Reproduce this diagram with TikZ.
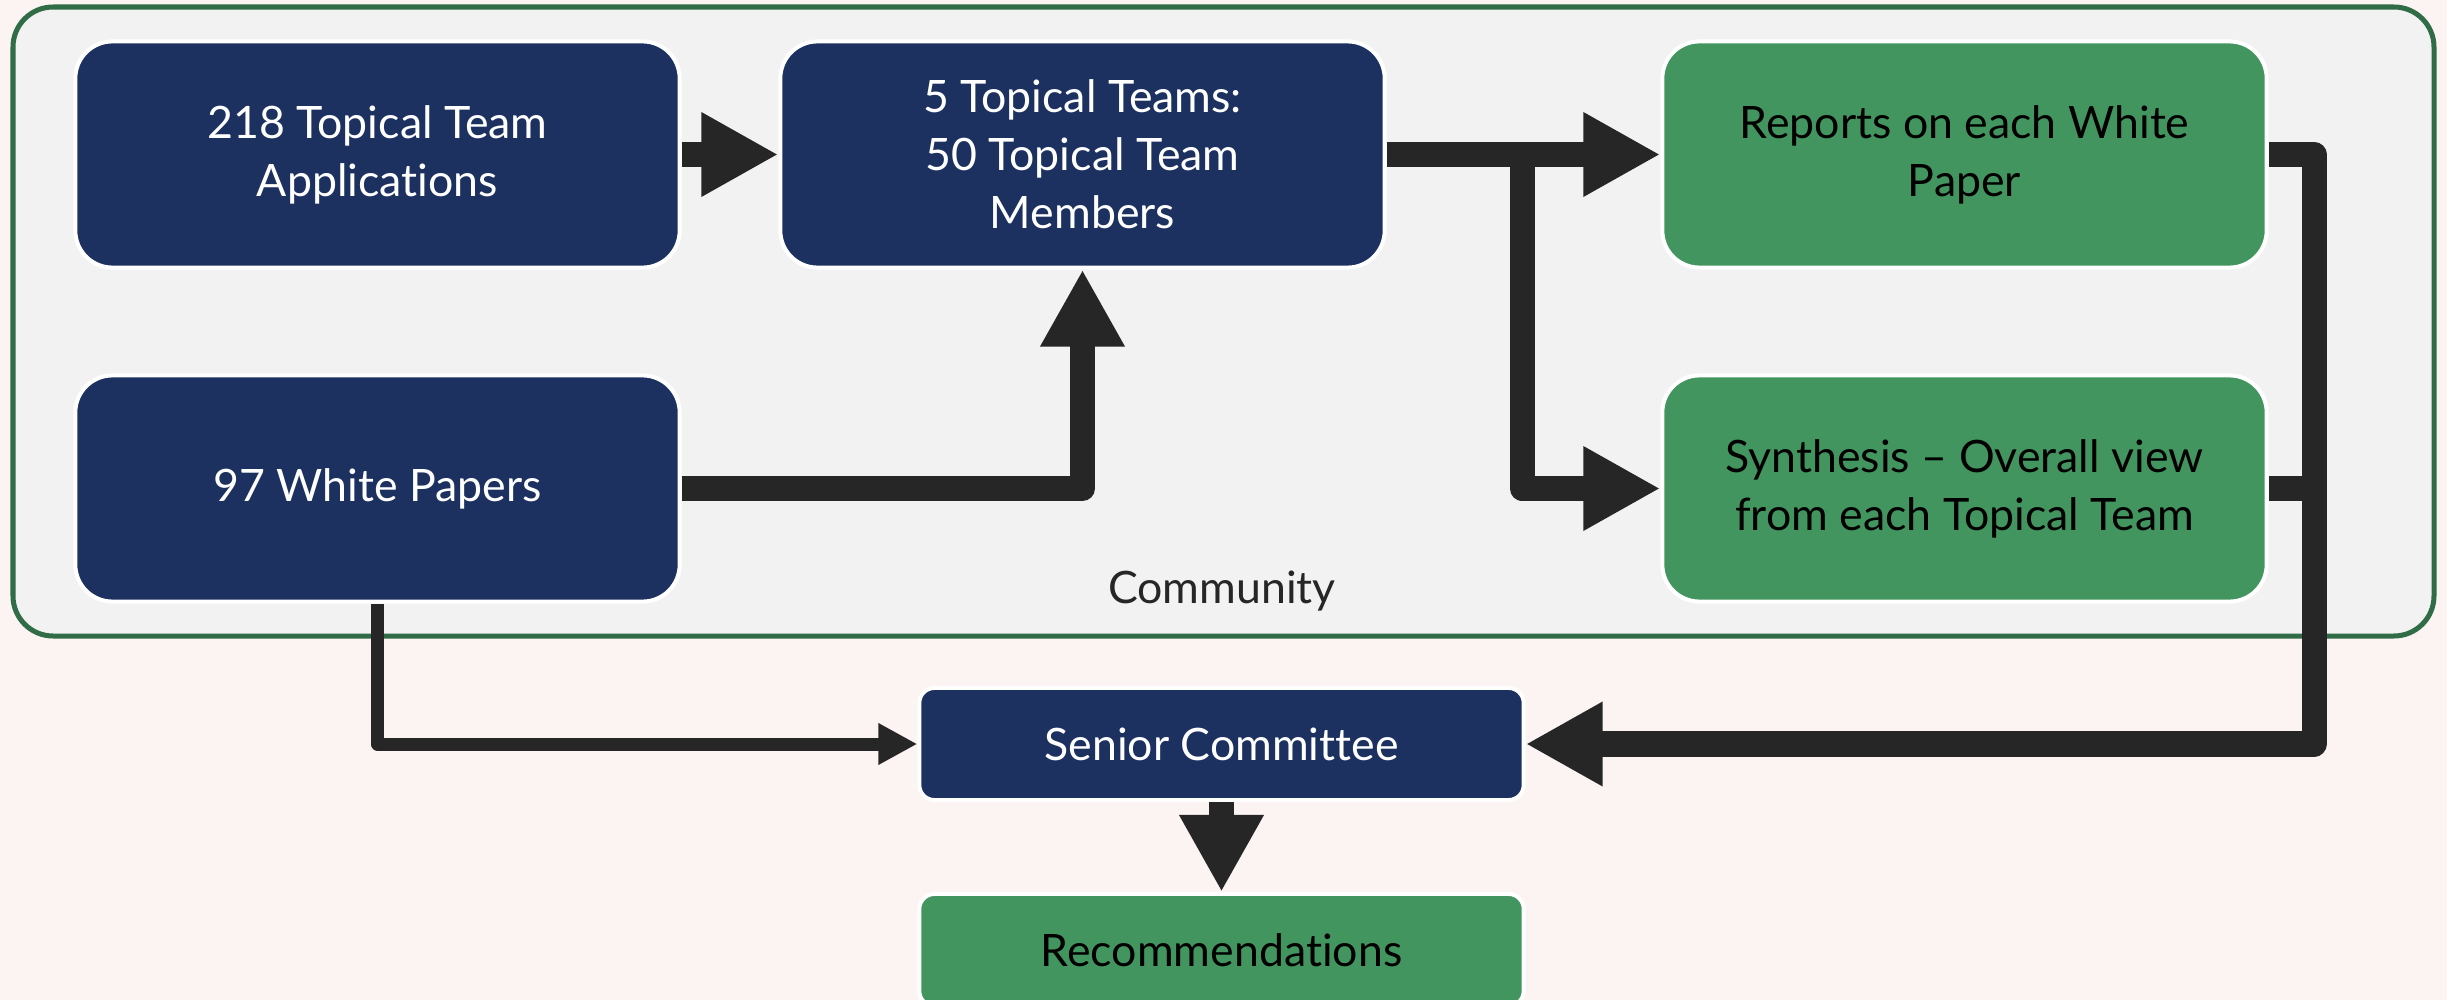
\documentclass[tikz,border=0pt]{standalone}
\usepackage{fontspec}
\setmainfont{Lato}[Ligatures=NoCommon]
\usetikzlibrary{arrows.meta}

\definecolor{navy}{HTML}{1C3160}
\definecolor{leafgreen}{HTML}{43955F}
\definecolor{frameline}{HTML}{306C45}
\definecolor{framefill}{HTML}{F2F2F2}
\definecolor{paper}{HTML}{FCF3F3}
\definecolor{ink}{HTML}{262626}

\tikzset{
  box/.style={rounded corners=0.37cm, draw=white, line width=0.04cm,
    minimum width=6.04cm, minimum height=2.26cm, align=center,
    font=\fontsize{12.7}{16.5}\selectfont},
  bluebox/.style={box, fill=navy, text=white},
  greenbox/.style={box, fill=leafgreen, text=black},
  flat/.style={minimum height=1.12cm, rounded corners=0.15cm},
  bigarrow/.style={draw=ink, line width=0.25cm, line join=round,
    -{Triangle[length=0.77cm,width=0.79cm]}},
  bigline/.style={draw=ink, line width=0.25cm, line join=round},
  thinarrow/.style={draw=ink, line width=0.13cm, line join=round,
    -{Triangle[length=0.39cm,width=0.39cm]}},
}

\begin{document}
\begin{tikzpicture}[x=0.01cm, y=-0.01cm]
    \useasboundingbox (0,0) rectangle (2447,1000);
    \clip (0,0) rectangle (2447,1000);
    \fill[paper] (0,0) rectangle (2447,1000);

    % community frame
    \draw[frameline, fill=framefill, line width=0.05cm, rounded corners=0.4cm]
        (13,7) rectangle (2434,636);
    \node[anchor=base, text=ink, font=\fontsize{12.7}{16.5}\selectfont] (community) at (1222,603) {Community};

    % boxes
    \node[bluebox] (apps) at (377.5,154.5) {218 Topical Team\\Applications};
    \node[bluebox] (teams) at (1082.5,154.5) {5 Topical Teams:\\50 Topical Team\\Members};
    \node[bluebox] (papers) at (377.5,488.5) {97 White Papers};
    \node[greenbox] (reports) at (1964.5,154.5) {Reports on each White\\Paper};
    \node[greenbox] (synth) at (1964.5,488.5) {Synthesis -- Overall view\\from each Topical Team};
    \node[bluebox, flat] (senior) at (1221.5,744) {Senior Committee};
    \node[greenbox, flat] (recs) at (1221.5,950) {Recommendations};

    \coordinate (split) at (1522,154.5);
    \coordinate (collect) at (2314,744);

    % connectors
    \draw[bigarrow] (apps.east) -- (teams.west);
    \draw[bigarrow] (papers.east) -| (teams.south);
    \draw[bigarrow] (teams.east) -- (reports.west);
    \draw[bigarrow] (split) |- (synth.west);
    \draw[bigarrow] (reports.east) -| (collect) -- (senior.east);
    \draw[bigline] (synth.east) -- (synth.east -| collect);
    \draw[thinarrow] (papers.south) |- (senior.west);
    \draw[bigarrow] (senior.south) -- (recs.north);
\end{tikzpicture}
\end{document}
